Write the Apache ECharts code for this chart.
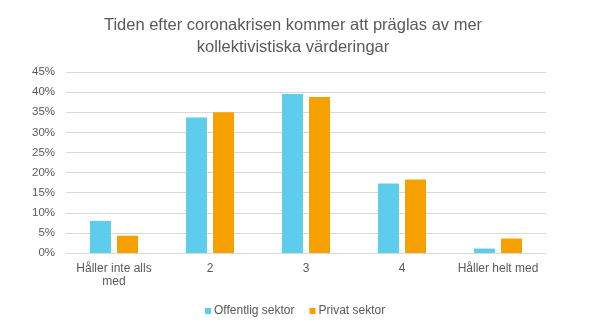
<!DOCTYPE html>
<html>
<head>
<meta charset="utf-8">
<script src="https://cdn.jsdelivr.net/npm/echarts@6/dist/echarts.min.js"></script>
<style>
  html, body { margin: 0; padding: 0; background: #fff; }
  #chart { width: 606px; height: 330px; }
</style>
</head>
<body>
<div id="chart"></div>
<script>
// Survey answers on a 1–5 scale, share of respondents per sector (%)
const categories = ['Håller inte alls\nmed', '2', '3', '4', 'Håller helt med'];
const offentligSektor = [8.0, 33.7, 39.5, 17.3, 1.1];
const privatSektor = [4.3, 35.0, 38.8, 18.3, 3.6];
const seriesNames = ['Offentlig sektor', 'Privat sektor'];
const chartTitle = 'Tiden efter coronakrisen kommer att präglas av mer\nkollektivistiska värderingar';

const textColor = '#595959';
const fontFamily = 'Arial, "Liberation Sans", Helvetica, sans-serif';

const chart = echarts.init(document.getElementById('chart'));
chart.setOption({
  animation: false,
  textStyle: { fontFamily: fontFamily },
  title: {
    text: chartTitle,
    left: 288,
    top: 9,
    textAlign: 'center',
    textStyle: {
      color: textColor,
      fontSize: 16.5,
      fontWeight: 'normal',
      lineHeight: 22,
      fontFamily: fontFamily
    }
  },
  legend: {
    top: 300,
    left: 200,
    itemWidth: 6,
    itemHeight: 6,
    itemGap: 15,
    icon: 'rect',
    textStyle: { color: textColor, fontSize: 12, padding: [0, 0, 0, -2] },
    data: seriesNames
  },
  grid: {
    left: 66,
    right: 60,
    top: 72,
    bottom: 77,
    containLabel: false
  },
  xAxis: {
    type: 'category',
    data: categories,
    axisLine: { lineStyle: { color: '#d9d9d9' } },
    axisTick: { show: false },
    axisLabel: {
      color: textColor,
      fontSize: 12,
      margin: 9,
      lineHeight: 13,
      interval: 0
    }
  },
  yAxis: {
    type: 'value',
    min: 0,
    max: 45,
    interval: 5,
    axisLine: { show: false },
    axisTick: { show: false },
    splitLine: { lineStyle: { color: '#d9d9d9' } },
    axisLabel: {
      color: textColor,
      fontSize: 11.5,
      margin: 11,
      formatter: '{value}%'
    }
  },
  series: [
    {
      name: seriesNames[0],
      type: 'bar',
      data: offentligSektor,
      itemStyle: { color: '#5ECDEB' },
      barWidth: 21,
      barGap: '29%'
    },
    {
      name: seriesNames[1],
      type: 'bar',
      data: privatSektor,
      itemStyle: { color: '#F7A100' },
      barWidth: 21,
      barGap: '29%'
    }
  ]
});
</script>
</body>
</html>
